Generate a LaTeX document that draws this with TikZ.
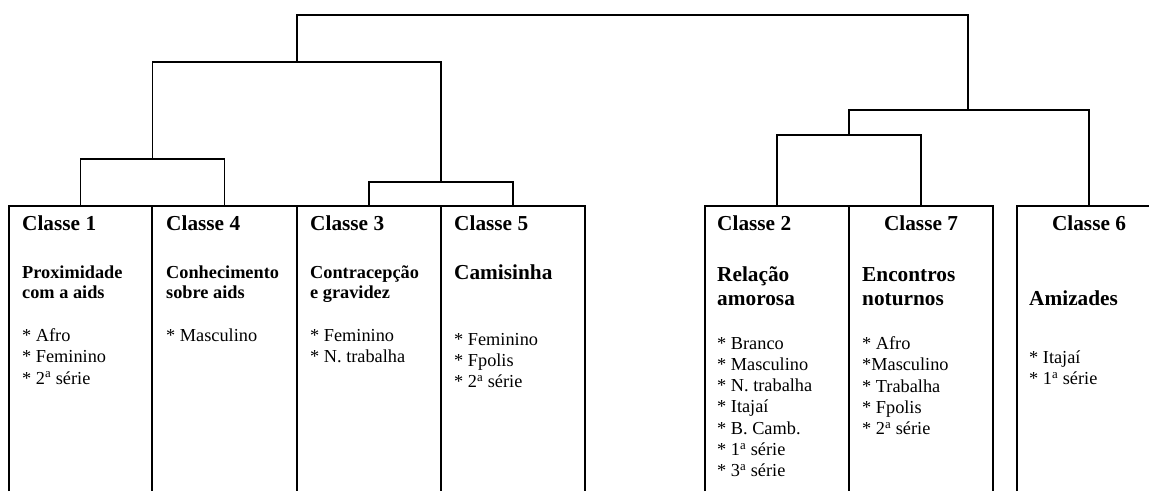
\documentclass[tikz,border=0pt]{standalone}
\usepackage{fontspec}
\setmainfont{Liberation Serif}
\begin{document}
\begin{tikzpicture}[x=1pt,y=-1pt,
  boxline/.style={line width=1.9pt},
  dendro/.style={line width=1.7pt},
  hdr/.style={anchor=base west,inner sep=0pt,font=\fontsize{21.3}{23.3}\selectfont\bfseries},
  hdrc/.style={anchor=base,inner sep=0pt,font=\fontsize{21.3}{23.3}\selectfont\bfseries},
  ttl/.style={anchor=base west,inner sep=0pt,font=\fontsize{18.3}{20.5}\selectfont\bfseries},
  ttlbig/.style={anchor=base west,inner sep=0pt,font=\fontsize{21.3}{23.3}\selectfont\bfseries},
  itm/.style={anchor=base west,inner sep=0pt,font=\fontsize{18.3}{21.3}\selectfont}]
\useasboundingbox (0,0) rectangle (1149,491);
% box tops (named coordinates)
\coordinate (c1top) at (80.5,206);
\coordinate (c4top) at (224.5,206);
\coordinate (c3top) at (369,206);
\coordinate (c5top) at (513,206);
\coordinate (c2top) at (777,206);
\coordinate (c7top) at (921,206);
\coordinate (c6top) at (1089,206);
% merge points
\coordinate (m14) at (152.5,159);
\coordinate (m35) at (441,182);
\coordinate (mL) at (297,62);
\coordinate (m27) at (849,135);
\coordinate (mR) at (968,110);
\coordinate (mT) at (632.5,15);
% boxes
\draw[boxline] (9,491) -- (9,206) -- (585,206) -- (585,491);
\draw[boxline] (152,206) -- (152,491);
\draw[boxline] (297,206) -- (297,491);
\draw[boxline] (441,206) -- (441,491);
\draw[boxline] (705,491) -- (705,206) -- (993,206) -- (993,491);
\draw[boxline] (849,206) -- (849,491);
\draw[boxline] (1017,491) -- (1017,206) -- (1152,206);
% dendrogram
\draw[dendro] (c1top) |- (m14) -| (c4top);
\draw[dendro] (c3top) |- (m35) -| (c5top);
\draw[dendro] (m14) |- (mL) -| (m35);
\draw[dendro] (c2top) |- (m27) -| (c7top);
\draw[dendro] (m27) |- (mR) -| (c6top);
\draw[dendro] (mL) |- (mT) -| (mR);
% Classe 1
\node[hdr] (h1) at (22,230) {Classe 1};
\node[ttl] (t1a) at (22,278) {Proximidade};
\node[ttl] (t1b) at (22,298.5) {com a aids};
\foreach \t [count=\k] in {* Afro,* Feminino,* 2\textsuperscript{a} série}
  \node[itm] (i1-\k) at (22,{341.7+21.2*(\k-1)}) {\t};
% Classe 4
\node[hdr] (h4) at (166,230) {Classe 4};
\node[ttl] (t4a) at (166,278) {Conhecimento};
\node[ttl] (t4b) at (166,298.5) {sobre aids};
\node[itm] (i4-1) at (166,341.7) {* Masculino};
% Classe 3
\node[hdr] (h3) at (310,230) {Classe 3};
\node[ttl] (t3a) at (310,278) {Contracepção};
\node[ttl] (t3b) at (310,298.5) {e gravidez};
\foreach \t [count=\k] in {* Feminino,* N. trabalha}
  \node[itm] (i3-\k) at (310,{341.7+21.2*(\k-1)}) {\t};
% Classe 5
\node[hdr] (h5) at (454,230) {Classe 5};
\node[ttlbig] (t5a) at (454,279) {Camisinha};
\foreach \t [count=\k] in {* Feminino,* Fpolis,* 2\textsuperscript{a} série}
  \node[itm] (i5-\k) at (454,{345+21.2*(\k-1)}) {\t};
% Classe 2
\node[hdr] (h2) at (717,230) {Classe 2};
\node[ttlbig] (t2a) at (717,281.7) {Relação};
\node[ttlbig] (t2b) at (717,305) {amorosa};
\foreach \t [count=\k] in {* Branco,* Masculino,* N. trabalha,* Itajaí,* B. Camb.,* 1\textsuperscript{a} série,* 3\textsuperscript{a} série}
  \node[itm] (i2-\k) at (717,{349+21.3*(\k-1)}) {\t};
% Classe 7
\node[hdrc] (h7) at (921,230) {Classe 7};
\node[ttlbig] (t7a) at (862,281.7) {Encontros};
\node[ttlbig] (t7b) at (862,305) {noturnos};
\foreach \t [count=\k] in {* Afro,*Masculino,* Trabalha,* Fpolis,* 2\textsuperscript{a} série}
  \node[itm] (i7-\k) at (862,{349.5+21.3*(\k-1)}) {\t};
% Classe 6
\node[hdrc] (h6) at (1089,230) {Classe 6};
\node[ttlbig] (t6a) at (1029,305) {Amizades};
\foreach \t [count=\k] in {* Itajaí,* 1\textsuperscript{a} série}
  \node[itm] (i6-\k) at (1029,{363.5+21.2*(\k-1)}) {\t};
\end{tikzpicture}
\end{document}
